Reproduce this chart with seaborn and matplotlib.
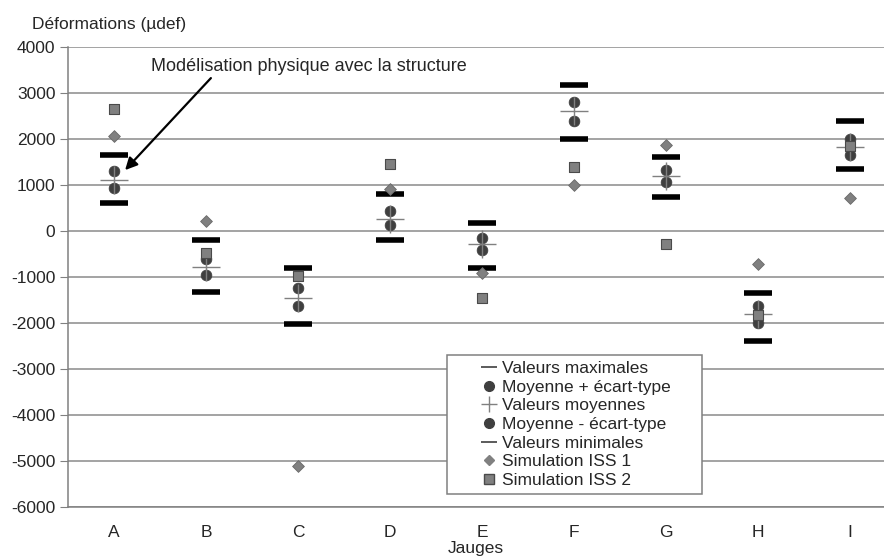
import numpy as np
import pandas as pd
import matplotlib
matplotlib.use("Agg")
import matplotlib.pyplot as plt
import seaborn as sns
from matplotlib.lines import Line2D
from matplotlib.patches import Rectangle

jauges = ["A", "B", "C", "D", "E", "F", "G", "H", "I"]
val_max = [1650, -200, -800, 800, 180, 3180, 1600, -1340, 2400]
moy_plus = [1300, -600, -1240, 430, -150, 2800, 1330, -1640, 2010]
val_moy = [1100, -780, -1450, 270, -290, 2600, 1190, -1810, 1820]
moy_moins = [930, -950, -1630, 130, -420, 2390, 1070, -2010, 1660]
val_min = [600, -1320, -2020, -190, -800, 2000, 750, -2390, 1340]
iss1 = [2060, 220, -5100, 910, -920, 1000, 1870, -720, 710]
iss2 = [2650, -480, -980, 1450, -1450, 1390, -290, -1820, 1850]

labels = ["Valeurs maximales", "Moyenne + écart-type", "Valeurs moyennes",
          "Moyenne - écart-type", "Valeurs minimales", "Simulation ISS 1",
          "Simulation ISS 2"]

sns.set_style("white")
plt.rcParams["font.family"] = ["Liberation Sans", "DejaVu Sans"]
plt.rcParams["font.size"] = 12.5
plt.rcParams["axes.unicode_minus"] = False

fig = plt.figure(figsize=(8.84, 5.56), dpi=100)
ax = fig.add_axes([68 / 884, 1 - 507 / 556, 1 - 68 / 884, 460 / 556])

df = pd.DataFrame({"jauge": jauges, "max": val_max, "plus": moy_plus,
                   "moy": val_moy, "moins": moy_moins, "min": val_min,
                   "iss1": iss1, "iss2": iss2})

dark = "#3f3f3f"
grey = "#808080"

sns.scatterplot(data=df, x="jauge", y="max", marker="_", s=400, linewidth=4,
                color="black", ax=ax, zorder=3)
sns.scatterplot(data=df, x="jauge", y="min", marker="_", s=400, linewidth=4,
                color="black", ax=ax, zorder=3)
sns.scatterplot(data=df, x="jauge", y="plus", marker="o", s=60, color=dark,
                edgecolor=dark, linewidth=0.5, ax=ax, zorder=3)
sns.scatterplot(data=df, x="jauge", y="moins", marker="o", s=60, color=dark,
                edgecolor=dark, linewidth=0.5, ax=ax, zorder=3)
sns.scatterplot(data=df, x="jauge", y="moy", marker="+", s=380, linewidth=1,
                color=grey, ax=ax, zorder=4)
sns.scatterplot(data=df, x="jauge", y="iss1", marker="D", s=36, color=grey,
                edgecolor="#6a6a6a", linewidth=0.6, ax=ax, zorder=4)
sns.scatterplot(data=df, x="jauge", y="iss2", marker="s", s=50, color=grey,
                edgecolor="#4a4a4a", linewidth=0.8, ax=ax, zorder=5)

ax.set_xlim(-0.5, -0.5 + 816 / 92)
ax.set_ylim(-6000, 4000)
ax.set_yticks(np.arange(-6000, 4001, 1000))
ax.set_xticks(np.arange(len(jauges)))
ax.set_xticklabels(jauges)
ax.set_xticks(np.arange(0.5, len(jauges) - 1, 1.0), minor=True)
ax.tick_params(axis="x", which="major", length=0, pad=13, labelsize=12.5)
ax.tick_params(axis="x", which="minor", length=5, color=grey, direction="out")
ax.tick_params(axis="y", length=6, color=grey, direction="out", left=True,
               pad=3, labelsize=12.5)
ax.yaxis.grid(True, color="#8a8a8a", linewidth=1.1)
ax.set_axisbelow(True)
for side in ["top", "right"]:
    ax.spines[side].set_visible(False)
for side in ["left", "bottom"]:
    ax.spines[side].set_color(grey)
    ax.spines[side].set_linewidth(1.1)
ax.set_xlabel("")
ax.set_ylabel("")

fig.text(32 / 884, 1 - 25 / 556, "Déformations (µdef)", fontsize=12.5,
         ha="left", va="center")
fig.text(476 / 884, 1 - 548 / 556, "Jauges", fontsize=12.5, ha="center",
         va="center")

ax.annotate("Modélisation physique avec la structure", xy=(0.1, 1280),
            xytext=(0.4, 3580), fontsize=13, ha="left", va="center",
            arrowprops=dict(arrowstyle="-|>", color="black", lw=1.6,
                            mutation_scale=18, shrinkA=0, shrinkB=2,
                            relpos=(0.2, 0.0)))

handles = [
    Line2D([], [], marker="_", color=dark, markersize=11, mew=1.2, ls="none"),
    Line2D([], [], marker="o", color=dark, markersize=7, ls="none"),
    Line2D([], [], marker="+", color=grey, markersize=11, mew=1, ls="none"),
    Line2D([], [], marker="o", color=dark, markersize=7, ls="none"),
    Line2D([], [], marker="_", color=dark, markersize=11, mew=1.2, ls="none"),
    Line2D([], [], marker="D", color=grey, markersize=5.5, ls="none"),
    Line2D([], [], marker="s", color=grey, markeredgecolor="#4a4a4a",
           markersize=6.5, ls="none"),
]
x0 = (447 - 68) / 816
y1 = (507 - 355) / 460
w = (702 - 447) / 816
h = (494 - 355) / 460
ax.add_patch(Rectangle((x0, y1 - h), w, h, transform=ax.transAxes,
                       facecolor="white", edgecolor=grey, linewidth=1.1,
                       zorder=6))
leg = ax.legend(handles, labels, loc="upper left",
                bbox_to_anchor=((480 - 68) / 816, (507 - 361) / 460),
                frameon=False, fontsize=12.5, handlelength=1.0,
                handletextpad=0.25, labelspacing=0.2, borderaxespad=0,
                borderpad=0)
leg.set_zorder(7)

plt.savefig("out.png", dpi=100)
